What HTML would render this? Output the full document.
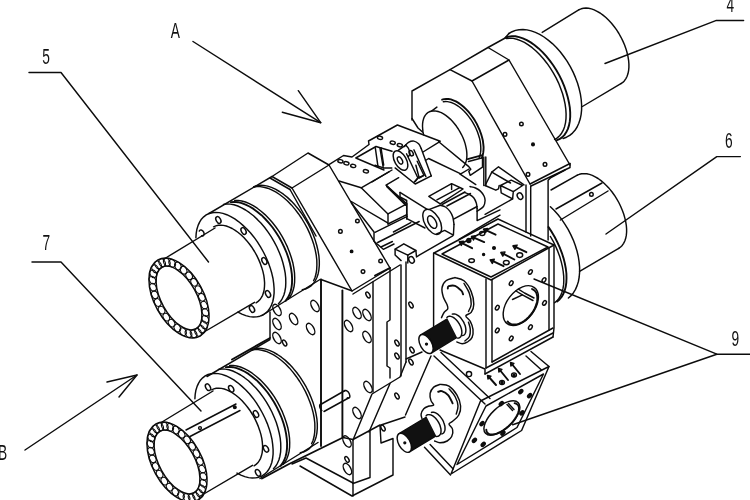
<!DOCTYPE html>
<html><head><meta charset="utf-8"><title>Figure</title>
<style>
html,body{margin:0;padding:0;background:#fff;}
body{width:750px;height:500px;overflow:hidden;position:relative;}
svg{position:absolute;left:0;top:0;display:block;filter:blur(0.35px);}
path,ellipse,circle,line{fill:none;stroke:#0c0c0c;stroke-width:1.45;stroke-linecap:round;stroke-linejoin:round;}
.w{fill:#fff;}
.k{fill:#111;}
.b{stroke-width:1.9;}
.h{stroke-width:1.05;}
.t{font-family:"Liberation Sans","DejaVu Sans",sans-serif;font-size:21.5px;fill:#111;stroke:none;}
</style></head><body>
<svg width="750" height="500" viewBox="0 0 750 500">
<path d="M29.0,72.5 L61.0,72.5 L208.5,262.0"/>
<path d="M32.0,262.0 L61.0,262.0 L201.0,411.0"/>
<path d="M743.6,20.4 L716.4,20.4 L605.0,63.5"/>
<path d="M740.4,156.6 L716.8,156.6 L606.0,234.0"/>
<path d="M750.0,354.2 L716.8,354.2 L534.0,279.0"/>
<path d="M716.8,354.2 L512.7,424.7"/>
<path d="M193.0,41.5 L320.7,122.7"/>
<path d="M298.3,90.7 L320.7,122.7 L282.3,112.3"/>
<path d="M25.0,450.0 L137.0,375.0"/>
<path d="M107.0,382.0 L137.0,375.0 L119.0,397.0"/>
<ellipse cx="179.0" cy="298.0" rx="43.5" ry="24.5" transform="rotate(61.0 179.0 298.0)"/>
<ellipse cx="179.0" cy="298.0" rx="35.0" ry="17.6" transform="rotate(61.0 179.0 298.0)"/>
<ellipse class="h" cx="198.1" cy="332.4" rx="4.0" ry="3.0" transform="rotate(61.0 198.1 332.4)"/>
<ellipse class="h" cx="193.6" cy="333.8" rx="4.0" ry="3.0" transform="rotate(61.0 193.6 333.8)"/>
<ellipse class="h" cx="188.5" cy="333.5" rx="4.0" ry="3.0" transform="rotate(61.0 188.5 333.5)"/>
<ellipse class="h" cx="183.0" cy="331.6" rx="4.0" ry="3.0" transform="rotate(61.0 183.0 331.6)"/>
<ellipse class="h" cx="177.3" cy="328.0" rx="4.0" ry="3.0" transform="rotate(61.0 177.3 328.0)"/>
<ellipse class="h" cx="171.6" cy="323.1" rx="4.0" ry="3.0" transform="rotate(61.0 171.6 323.1)"/>
<ellipse class="h" cx="166.3" cy="317.1" rx="4.0" ry="3.0" transform="rotate(61.0 166.3 317.1)"/>
<ellipse class="h" cx="161.6" cy="310.1" rx="4.0" ry="3.0" transform="rotate(61.0 161.6 310.1)"/>
<ellipse class="h" cx="157.7" cy="302.5" rx="4.0" ry="3.0" transform="rotate(61.0 157.7 302.5)"/>
<ellipse class="h" cx="154.8" cy="294.8" rx="4.0" ry="3.0" transform="rotate(61.0 154.8 294.8)"/>
<ellipse class="h" cx="153.0" cy="287.2" rx="4.0" ry="3.0" transform="rotate(61.0 153.0 287.2)"/>
<ellipse class="h" cx="152.5" cy="280.1" rx="4.0" ry="3.0" transform="rotate(61.0 152.5 280.1)"/>
<ellipse class="h" cx="153.2" cy="273.8" rx="4.0" ry="3.0" transform="rotate(61.0 153.2 273.8)"/>
<ellipse class="h" cx="155.1" cy="268.7" rx="4.0" ry="3.0" transform="rotate(61.0 155.1 268.7)"/>
<ellipse class="h" cx="158.1" cy="264.9" rx="4.0" ry="3.0" transform="rotate(61.0 158.1 264.9)"/>
<ellipse class="h" cx="162.1" cy="262.7" rx="4.0" ry="3.0" transform="rotate(61.0 162.1 262.7)"/>
<ellipse class="h" cx="166.8" cy="262.2" rx="4.0" ry="3.0" transform="rotate(61.0 166.8 262.2)"/>
<ellipse class="h" cx="172.2" cy="263.3" rx="4.0" ry="3.0" transform="rotate(61.0 172.2 263.3)"/>
<ellipse class="h" cx="177.9" cy="266.0" rx="4.0" ry="3.0" transform="rotate(61.0 177.9 266.0)"/>
<ellipse class="h" cx="183.6" cy="270.2" rx="4.0" ry="3.0" transform="rotate(61.0 183.6 270.2)"/>
<ellipse class="h" cx="189.1" cy="275.8" rx="4.0" ry="3.0" transform="rotate(61.0 189.1 275.8)"/>
<ellipse class="h" cx="194.1" cy="282.3" rx="4.0" ry="3.0" transform="rotate(61.0 194.1 282.3)"/>
<ellipse class="h" cx="198.5" cy="289.6" rx="4.0" ry="3.0" transform="rotate(61.0 198.5 289.6)"/>
<ellipse class="h" cx="201.9" cy="297.3" rx="4.0" ry="3.0" transform="rotate(61.0 201.9 297.3)"/>
<ellipse class="h" cx="204.2" cy="305.1" rx="4.0" ry="3.0" transform="rotate(61.0 204.2 305.1)"/>
<ellipse class="h" cx="205.4" cy="312.5" rx="4.0" ry="3.0" transform="rotate(61.0 205.4 312.5)"/>
<ellipse class="h" cx="205.3" cy="319.2" rx="4.0" ry="3.0" transform="rotate(61.0 205.3 319.2)"/>
<ellipse class="h" cx="204.0" cy="324.9" rx="4.0" ry="3.0" transform="rotate(61.0 204.0 324.9)"/>
<ellipse class="h" cx="201.6" cy="329.4" rx="4.0" ry="3.0" transform="rotate(61.0 201.6 329.4)"/>
<ellipse cx="177.0" cy="462.0" rx="43.5" ry="24.5" transform="rotate(61.0 177.0 462.0)"/>
<ellipse cx="177.0" cy="462.0" rx="35.0" ry="17.6" transform="rotate(61.0 177.0 462.0)"/>
<ellipse class="h" cx="196.1" cy="496.4" rx="4.0" ry="3.0" transform="rotate(61.0 196.1 496.4)"/>
<ellipse class="h" cx="191.6" cy="497.8" rx="4.0" ry="3.0" transform="rotate(61.0 191.6 497.8)"/>
<ellipse class="h" cx="186.5" cy="497.5" rx="4.0" ry="3.0" transform="rotate(61.0 186.5 497.5)"/>
<ellipse class="h" cx="181.0" cy="495.6" rx="4.0" ry="3.0" transform="rotate(61.0 181.0 495.6)"/>
<ellipse class="h" cx="175.3" cy="492.0" rx="4.0" ry="3.0" transform="rotate(61.0 175.3 492.0)"/>
<ellipse class="h" cx="169.6" cy="487.1" rx="4.0" ry="3.0" transform="rotate(61.0 169.6 487.1)"/>
<ellipse class="h" cx="164.3" cy="481.1" rx="4.0" ry="3.0" transform="rotate(61.0 164.3 481.1)"/>
<ellipse class="h" cx="159.6" cy="474.1" rx="4.0" ry="3.0" transform="rotate(61.0 159.6 474.1)"/>
<ellipse class="h" cx="155.7" cy="466.5" rx="4.0" ry="3.0" transform="rotate(61.0 155.7 466.5)"/>
<ellipse class="h" cx="152.8" cy="458.8" rx="4.0" ry="3.0" transform="rotate(61.0 152.8 458.8)"/>
<ellipse class="h" cx="151.0" cy="451.2" rx="4.0" ry="3.0" transform="rotate(61.0 151.0 451.2)"/>
<ellipse class="h" cx="150.5" cy="444.1" rx="4.0" ry="3.0" transform="rotate(61.0 150.5 444.1)"/>
<ellipse class="h" cx="151.2" cy="437.8" rx="4.0" ry="3.0" transform="rotate(61.0 151.2 437.8)"/>
<ellipse class="h" cx="153.1" cy="432.7" rx="4.0" ry="3.0" transform="rotate(61.0 153.1 432.7)"/>
<ellipse class="h" cx="156.1" cy="428.9" rx="4.0" ry="3.0" transform="rotate(61.0 156.1 428.9)"/>
<ellipse class="h" cx="160.1" cy="426.7" rx="4.0" ry="3.0" transform="rotate(61.0 160.1 426.7)"/>
<ellipse class="h" cx="164.8" cy="426.2" rx="4.0" ry="3.0" transform="rotate(61.0 164.8 426.2)"/>
<ellipse class="h" cx="170.2" cy="427.3" rx="4.0" ry="3.0" transform="rotate(61.0 170.2 427.3)"/>
<ellipse class="h" cx="175.9" cy="430.0" rx="4.0" ry="3.0" transform="rotate(61.0 175.9 430.0)"/>
<ellipse class="h" cx="181.6" cy="434.2" rx="4.0" ry="3.0" transform="rotate(61.0 181.6 434.2)"/>
<ellipse class="h" cx="187.1" cy="439.8" rx="4.0" ry="3.0" transform="rotate(61.0 187.1 439.8)"/>
<ellipse class="h" cx="192.1" cy="446.3" rx="4.0" ry="3.0" transform="rotate(61.0 192.1 446.3)"/>
<ellipse class="h" cx="196.5" cy="453.6" rx="4.0" ry="3.0" transform="rotate(61.0 196.5 453.6)"/>
<ellipse class="h" cx="199.9" cy="461.3" rx="4.0" ry="3.0" transform="rotate(61.0 199.9 461.3)"/>
<ellipse class="h" cx="202.2" cy="469.1" rx="4.0" ry="3.0" transform="rotate(61.0 202.2 469.1)"/>
<ellipse class="h" cx="203.4" cy="476.5" rx="4.0" ry="3.0" transform="rotate(61.0 203.4 476.5)"/>
<ellipse class="h" cx="203.3" cy="483.2" rx="4.0" ry="3.0" transform="rotate(61.0 203.3 483.2)"/>
<ellipse class="h" cx="202.0" cy="488.9" rx="4.0" ry="3.0" transform="rotate(61.0 202.0 488.9)"/>
<ellipse class="h" cx="199.6" cy="493.4" rx="4.0" ry="3.0" transform="rotate(61.0 199.6 493.4)"/>
<path d="M164.0,259.0 L215.0,228.0"/>
<path d="M201.5,333.5 L254.5,302.3"/>
<path d="M213.6,226.8 L215.8,225.9 L218.2,225.3 L220.7,225.1 L223.4,225.4 L226.3,226.0 L229.2,227.1 L232.2,228.5 L235.2,230.3 L238.2,232.5 L241.2,235.0 L244.1,237.8 L246.9,240.9 L249.6,244.3 L252.2,247.8 L254.5,251.5 L256.7,255.4 L258.6,259.4 L260.3,263.4 L261.7,267.4 L262.9,271.4 L263.8,275.4 L264.3,279.2 L264.6,282.9 L264.5,286.3 L264.2,289.6 L263.5,292.6 L262.6,295.3 L261.3,297.7 L259.8,299.8 L258.1,301.4 L256.1,302.8"/>
<path d="M195.9,237.7 L196.2,233.3 L196.9,229.2 L198.1,225.4 L199.6,222.1 L201.4,219.2 L203.7,216.8 L206.2,214.9 L209.1,213.5 L212.3,212.7 L215.6,212.4 L219.2,212.6 L222.9,213.4 L226.8,214.7 L230.8,216.6 L234.8,218.9 L238.8,221.8 L242.7,225.1 L246.6,228.8 L250.4,232.8 L254.0,237.2 L257.4,241.9 L260.5,246.9 L263.4,252.0 L266.0,257.2 L268.3,262.6 L270.2,267.9 L271.8,273.3 L273.0,278.5 L273.7,283.6 L274.1,288.5 L274.1,293.1 L273.6,297.5 L272.8,301.5 L271.5,305.1 L269.9,308.3 L267.9,311.0 L265.5,313.2 L262.9,315.0 L259.9,316.2 L256.7,316.9 L253.3,317.0 L249.6,316.6 L245.8,315.6 L241.9,314.1 L238.0,312.1"/>
<path d="M223.5,204.4 L226.8,204.0 L230.3,204.1 L234.0,204.8 L237.8,206.0 L241.7,207.8 L245.6,210.0 L249.5,212.7 L253.5,215.8 L257.3,219.4 L261.1,223.3 L264.7,227.5 L268.1,232.1 L271.3,236.9 L274.2,241.9 L276.9,247.0 L279.2,252.3 L281.3,257.5 L282.9,262.8 L284.2,268.0 L285.2,273.1 L285.7,278.0 L285.8,282.7 L285.6,287.1 L284.9,291.2 L283.9,295.0 L282.4,298.3 L280.6,301.3 L278.5,303.7"/>
<path class="b" d="M230.9,202.1 L234.3,201.9 L237.9,202.2 L241.7,203.1 L245.6,204.6 L249.5,206.5 L253.5,208.9 L257.5,211.9 L261.5,215.2 L265.3,219.0 L269.0,223.1 L272.6,227.5 L275.9,232.3 L279.1,237.2 L281.9,242.4 L284.4,247.6 L286.7,253.0 L288.5,258.3 L290.0,263.6 L291.1,268.8 L291.8,273.8 L292.1,278.7 L292.0,283.3 L291.5,287.6 L290.6,291.5 L289.3,295.0 L287.6,298.2 L285.6,300.8"/>
<path d="M234.7,200.4 L238.1,200.4 L241.7,201.0 L245.5,202.0 L249.3,203.6 L253.2,205.6 L257.2,208.2 L261.1,211.2 L265.0,214.6 L268.8,218.4 L272.4,222.5 L275.9,227.0 L279.2,231.7 L282.2,236.6 L284.9,241.7 L287.4,246.9 L289.5,252.2 L291.3,257.5 L292.8,262.7 L293.8,267.8 L294.5,272.8 L294.7,277.5 L294.6,282.1 L294.1,286.3 L293.2,290.1 L291.9,293.6 L290.2,296.7 L288.2,299.3"/>
<path d="M253.8,186.6 L256.9,185.7 L260.3,185.3 L263.8,185.4 L267.6,186.1 L271.4,187.4 L275.4,189.2 L279.4,191.5 L283.4,194.2 L287.4,197.4 L291.3,201.1 L295.0,205.1 L298.7,209.5 L302.1,214.2 L305.3,219.1 L308.3,224.2 L310.9,229.4 L313.2,234.8 L315.2,240.1 L316.8,245.5 L318.0,250.7 L318.9,255.8 L319.3,260.8 L319.3,265.4 L318.9,269.8 L318.1,273.9 L316.9,277.5 L315.3,280.8 L313.3,283.6 L311.0,285.9 L308.4,287.7 L305.5,289.0 L302.3,289.7"/>
<path d="M253.5,187.2 L256.8,186.6 L260.2,186.6 L263.9,187.2 L267.7,188.2 L271.6,189.8 L275.6,191.9 L279.6,194.5 L283.5,197.5 L287.5,201.0 L291.3,204.9 L294.9,209.1 L298.4,213.7 L301.7,218.5 L304.7,223.5 L307.5,228.6 L309.9,233.9 L312.0,239.3 L313.8,244.6 L315.2,249.9 L316.2,255.0 L316.8,260.0 L316.9,264.8 L316.7,269.3 L316.1,273.5 L315.1,277.3 L313.6,280.7"/>
<path d="M209.0,213.5 L272.0,176.5"/>
<path d="M262.0,315.5 L320.0,279.5"/>
<path d="M199.3,231.1 L199.4,230.9 L199.5,230.7 L199.7,230.5 L199.8,230.3 L200.0,230.2 L200.2,230.1 L200.4,230.1 L200.7,230.0 L200.9,230.0 L201.2,230.0 L201.4,230.1 L201.7,230.2 L201.9,230.3 L202.2,230.5 L202.4,230.6 L202.7,230.8 L202.9,231.1 L203.1,231.3 L203.3,231.6 L203.5,231.9 L203.6,232.2 L203.8,232.5 L203.9,232.8 L204.0,233.1 L204.0,233.4 L204.1,233.7 L204.1,234.0 L204.1,234.3 L204.0,234.6 L203.9,234.8 L203.8,235.0 L203.7,235.3 L203.6,235.5 L203.4,235.6 L203.2,235.8 L203.0,235.9 L202.8,235.9 L202.6,236.0 L202.3,236.0 L202.1,236.0 L201.8,235.9 L201.6,235.8"/>
<ellipse cx="218.4" cy="220.0" rx="3.6" ry="2.2" transform="rotate(60.5 218.4 220.0)"/>
<ellipse cx="243.6" cy="231.0" rx="3.6" ry="2.2" transform="rotate(60.5 243.6 231.0)"/>
<ellipse cx="264.4" cy="261.0" rx="3.6" ry="2.2" transform="rotate(60.5 264.4 261.0)"/>
<ellipse cx="268.0" cy="294.0" rx="3.6" ry="2.2" transform="rotate(60.5 268.0 294.0)"/>
<ellipse cx="252.0" cy="309.0" rx="3.6" ry="2.2" transform="rotate(60.5 252.0 309.0)"/>
<path d="M162.0,422.0 L213.0,391.0"/>
<path d="M199.5,496.5 L252.5,465.3"/>
<path d="M211.6,389.8 L213.8,388.9 L216.2,388.3 L218.7,388.1 L221.4,388.4 L224.3,389.0 L227.2,390.1 L230.2,391.5 L233.2,393.3 L236.2,395.5 L239.2,398.0 L242.1,400.8 L244.9,403.9 L247.6,407.3 L250.2,410.8 L252.5,414.5 L254.7,418.4 L256.6,422.4 L258.3,426.4 L259.7,430.4 L260.9,434.4 L261.8,438.4 L262.3,442.2 L262.6,445.9 L262.5,449.3 L262.2,452.6 L261.5,455.6 L260.6,458.3 L259.3,460.7 L257.8,462.8 L256.1,464.4 L254.1,465.8"/>
<path d="M194.9,398.7 L195.2,394.3 L195.9,390.2 L197.1,386.4 L198.6,383.1 L200.4,380.2 L202.7,377.8 L205.2,375.9 L208.1,374.5 L211.3,373.7 L214.6,373.4 L218.2,373.6 L221.9,374.4 L225.8,375.7 L229.8,377.6 L233.8,379.9 L237.8,382.8 L241.7,386.1 L245.6,389.8 L249.4,393.8 L253.0,398.2 L256.4,402.9 L259.5,407.9 L262.4,413.0 L265.0,418.2 L267.3,423.6 L269.2,428.9 L270.8,434.3 L272.0,439.5 L272.7,444.6 L273.1,449.5 L273.1,454.1 L272.6,458.5 L271.8,462.5 L270.5,466.1 L268.9,469.3 L266.9,472.0 L264.5,474.2 L261.9,476.0 L258.9,477.2 L255.7,477.9 L252.3,478.0 L248.6,477.6 L244.8,476.6 L240.9,475.1 L237.0,473.1"/>
<path d="M218.5,369.4 L221.8,369.0 L225.3,369.1 L229.0,369.8 L232.8,371.0 L236.7,372.8 L240.6,375.0 L244.5,377.7 L248.5,380.8 L252.3,384.4 L256.1,388.3 L259.7,392.5 L263.1,397.1 L266.3,401.9 L269.2,406.9 L271.9,412.0 L274.2,417.3 L276.3,422.5 L277.9,427.8 L279.2,433.0 L280.2,438.1 L280.7,443.0 L280.8,447.7 L280.6,452.1 L279.9,456.2 L278.9,460.0 L277.4,463.3 L275.6,466.3 L273.5,468.7"/>
<path class="b" d="M225.9,367.1 L229.3,366.9 L232.9,367.2 L236.7,368.1 L240.6,369.6 L244.5,371.5 L248.5,373.9 L252.5,376.9 L256.5,380.2 L260.3,384.0 L264.0,388.1 L267.6,392.5 L270.9,397.3 L274.1,402.2 L276.9,407.4 L279.4,412.6 L281.7,418.0 L283.5,423.3 L285.0,428.6 L286.1,433.8 L286.8,438.8 L287.1,443.7 L287.0,448.3 L286.5,452.6 L285.6,456.5 L284.3,460.0 L282.6,463.2 L280.6,465.8"/>
<path d="M229.7,365.4 L233.1,365.4 L236.7,366.0 L240.5,367.0 L244.3,368.6 L248.2,370.6 L252.2,373.2 L256.1,376.2 L260.0,379.6 L263.8,383.4 L267.4,387.5 L270.9,392.0 L274.2,396.7 L277.2,401.6 L279.9,406.7 L282.4,411.9 L284.5,417.2 L286.3,422.5 L287.8,427.7 L288.8,432.8 L289.5,437.8 L289.7,442.5 L289.6,447.1 L289.1,451.3 L288.2,455.1 L286.9,458.6 L285.2,461.7 L283.2,464.3"/>
<path d="M251.8,349.6 L254.9,348.7 L258.3,348.3 L261.8,348.4 L265.6,349.1 L269.4,350.4 L273.4,352.2 L277.4,354.5 L281.4,357.2 L285.4,360.4 L289.3,364.1 L293.0,368.1 L296.7,372.5 L300.1,377.2 L303.3,382.1 L306.3,387.2 L308.9,392.4 L311.2,397.8 L313.2,403.1 L314.8,408.5 L316.0,413.7 L316.9,418.8 L317.3,423.8 L317.3,428.4 L316.9,432.8 L316.1,436.9 L314.9,440.5 L313.3,443.8 L311.3,446.6 L309.0,448.9 L306.4,450.7 L303.5,452.0 L300.3,452.7"/>
<path d="M251.5,350.2 L254.8,349.6 L258.2,349.6 L261.9,350.2 L265.7,351.2 L269.6,352.8 L273.6,354.9 L277.6,357.5 L281.5,360.5 L285.5,364.0 L289.3,367.9 L292.9,372.1 L296.4,376.7 L299.7,381.5 L302.7,386.5 L305.5,391.6 L307.9,396.9 L310.0,402.3 L311.8,407.6 L313.2,412.9 L314.2,418.0 L314.8,423.0 L314.9,427.8 L314.7,432.3 L314.1,436.5 L313.1,440.3 L311.6,443.7"/>
<path d="M207.0,376.5 L270.0,339.5"/>
<path d="M260.0,478.5 L318.0,442.5"/>
<path d="M186.0,430.0 L236.0,404.0"/>
<path d="M190.0,436.5 L240.0,410.5"/>
<circle cx="200.0" cy="428.0" r="1.4"/>
<circle class="k" cx="234.8" cy="407.2" r="1.3"/>
<ellipse cx="208.0" cy="387.2" rx="3.6" ry="2.2" transform="rotate(60.5 208.0 387.2)"/>
<ellipse cx="231.2" cy="388.8" rx="3.6" ry="2.2" transform="rotate(60.5 231.2 388.8)"/>
<ellipse cx="256.0" cy="414.0" rx="3.6" ry="2.2" transform="rotate(60.5 256.0 414.0)"/>
<ellipse cx="266.0" cy="448.8" rx="3.6" ry="2.2" transform="rotate(60.5 266.0 448.8)"/>
<ellipse cx="258.0" cy="472.8" rx="3.6" ry="2.2" transform="rotate(60.5 258.0 472.8)"/>
<path d="M272.0,176.5 L308.0,153.0 L329.0,165.0 L292.0,188.0 L272.0,176.5"/>
<path d="M270.0,178.0 L290.0,189.5"/>
<path d="M292.0,188.0 L352.0,291.0"/>
<path d="M290.0,189.5 L316.0,236.0"/>
<path d="M329.0,165.0 L390.0,268.0"/>
<path d="M352.0,291.0 L390.0,268.0"/>
<path d="M353.0,294.0 L400.0,265.0"/>
<circle cx="357.4" cy="221.0" r="1.8"/>
<circle cx="340.4" cy="231.4" r="1.8"/>
<circle cx="363.0" cy="271.6" r="1.8"/>
<circle cx="380.6" cy="261.0" r="1.8"/>
<circle class="k" cx="351.6" cy="251.4" r="1.2"/>
<path d="M579.1,9.7 L581.2,8.8 L583.5,8.2 L586.0,8.0 L588.6,8.3 L591.4,8.9 L594.2,9.9 L597.1,11.3 L600.1,13.0 L603.0,15.1 L605.9,17.5 L608.7,20.3 L611.5,23.3 L614.1,26.5 L616.6,29.9 L618.9,33.5 L621.0,37.3 L622.9,41.1 L624.6,45.0 L626.0,48.9 L627.1,52.8 L628.0,56.7 L628.6,60.4 L628.9,64.0 L628.9,67.4 L628.6,70.6 L628.0,73.6 L627.1,76.2 L625.9,78.6 L624.5,80.7 L622.8,82.4 L620.9,83.7"/>
<path d="M542.2,32.4 L579.1,9.7"/>
<path d="M620.9,83.7 L582.4,106.5"/>
<path d="M508.9,33.5 L512.1,31.7 L515.5,30.4 L519.1,29.7 L523.0,29.5 L527.0,29.9 L531.2,30.9 L535.4,32.4 L539.7,34.4 L544.0,37.0 L548.2,40.1 L552.4,43.6 L556.4,47.5 L560.2,51.8 L563.8,56.5 L567.2,61.4 L570.3,66.6 L573.0,71.9 L575.4,77.4 L577.5,83.0 L579.1,88.5 L580.4,94.1 L581.2,99.5 L581.6,104.8 L581.6,109.8 L581.1,114.6 L580.2,119.1 L578.8,123.3 L577.1,127.0 L575.0,130.3 L572.5,133.1 L569.7,135.4 L566.5,137.2 L563.1,138.5"/>
<path d="M505.5,37.5 L508.9,33.6"/>
<path class="b" d="M505.6,37.6 L508.7,36.6 L511.9,36.2 L515.4,36.3 L519.1,37.1 L522.9,38.3 L526.8,40.1 L530.7,42.4 L534.7,45.2 L538.6,48.4 L542.5,52.1 L546.2,56.2 L549.8,60.6 L553.2,65.3 L556.4,70.3 L559.3,75.4 L561.9,80.7 L564.2,86.1 L566.1,91.5 L567.7,96.9 L568.9,102.2 L569.8,107.3 L570.2,112.3 L570.2,117.0 L569.8,121.4 L569.0,125.4 L567.8,129.1 L566.2,132.3 L564.3,135.1 L562.0,137.4 L559.4,139.2 L556.5,140.4"/>
<path d="M506.4,38.5 L509.7,38.2 L513.2,38.4 L516.8,39.2 L520.5,40.6 L524.4,42.4 L528.3,44.8 L532.2,47.7 L536.0,51.0 L539.8,54.7 L543.4,58.7 L546.9,63.2 L550.2,67.9 L553.3,72.8 L556.1,77.9 L558.6,83.1 L560.7,88.4 L562.6,93.8 L564.0,99.0 L565.1,104.2 L565.8,109.2 L566.1,114.0 L566.0,118.6 L565.5,122.8 L564.6,126.7 L563.3,130.2 L561.6,133.2 L559.6,135.8 L557.3,137.9 L554.6,139.5"/>
<path d="M577.3,175.2 L579.4,174.3 L581.7,173.7 L584.2,173.6 L586.8,173.8 L589.5,174.4 L592.3,175.4 L595.2,176.8 L598.1,178.5 L601.0,180.6 L603.8,183.0 L606.6,185.7 L609.3,188.6 L611.9,191.8 L614.4,195.2 L616.7,198.8 L618.8,202.5 L620.6,206.3 L622.3,210.2 L623.7,214.0 L624.8,217.9 L625.7,221.7 L626.3,225.3 L626.6,228.9 L626.6,232.3 L626.3,235.4 L625.7,238.3 L624.8,241.0 L623.6,243.3 L622.2,245.4 L620.6,247.0 L618.7,248.4"/>
<path d="M551.0,190.0 L577.3,175.2"/>
<path d="M618.7,248.4 L579.6,271.3"/>
<path d="M550.4,206.7 L554.3,210.6 L558.1,214.8 L561.7,219.4 L565.0,224.3 L568.1,229.4 L570.8,234.6 L573.3,240.1 L575.3,245.5 L577.0,251.0 L578.3,256.5 L579.1,261.9 L579.6,267.1 L579.6,272.2 L579.2,277.0 L578.4,281.5 L577.1,285.6 L575.5,289.4 L573.5,292.7 L571.1,295.6 L568.4,298.0"/>
<path class="b" d="M548.5,227.1 L551.7,231.9 L554.7,237.0 L557.3,242.1 L559.7,247.4 L561.8,252.8 L563.5,258.1 L564.8,263.3 L565.8,268.5 L566.4,273.5 L566.5,278.2 L566.3,282.7 L565.7,286.8 L564.7,290.6 L563.3,294.0 L561.6,297.0 L559.5,299.5 L557.1,301.5"/>
<path d="M550.4,236.5 L553.2,241.3 L555.6,246.3 L557.8,251.4 L559.7,256.5 L561.2,261.6 L562.4,266.6 L563.2,271.5 L563.7,276.2 L563.8,280.7 L563.6,284.9 L562.9,288.9 L561.9,292.5 L560.6,295.7 L558.9,298.5 L556.9,300.9 L554.6,302.8"/>
<path d="M602.0,183.0 L556.0,209.0"/>
<path d="M608.0,191.0 L560.4,220.0"/>
<circle cx="591.4" cy="194.4" r="1.8"/>
<path d="M412.0,120.0 L412.0,91.0 L450.0,69.6 L488.0,47.5 L507.0,37.0"/>
<path d="M450.0,69.6 L472.0,81.0 L509.0,60.0 L488.0,47.5"/>
<path d="M472.0,81.0 L530.0,184.0"/>
<path d="M509.0,60.0 L570.0,165.0"/>
<path d="M530.0,184.0 L570.0,163.5"/>
<path d="M531.0,186.0 L570.0,167.5 L570.0,163.5"/>
<circle cx="521.4" cy="124.0" r="1.8"/>
<circle cx="505.0" cy="134.4" r="1.8"/>
<circle cx="545.0" cy="164.4" r="1.8"/>
<circle cx="528.0" cy="174.4" r="1.8"/>
<circle class="k" cx="533.0" cy="144.4" r="1.3"/>
<path d="M412.0,118.5 L418.0,128.0 L422.5,132.0"/>
<path d="M423.6,134.8 L423.0,131.9 L422.7,129.0 L422.5,126.3 L422.6,123.7 L422.9,121.3 L423.5,119.1 L424.2,117.1 L425.2,115.4 L426.4,113.9 L427.7,112.7 L429.3,111.8 L431.0,111.2 L432.8,110.9 L434.8,110.9 L436.9,111.2 L439.1,111.8 L441.3,112.7 L443.5,113.9 L445.8,115.4 L448.0,117.1 L450.3,119.1 L452.4,121.3 L454.5,123.7 L456.5,126.3 L458.3,129.0 L460.0,131.9 L461.6,134.8 L463.0,137.8 L464.2,140.8 L465.2,143.9 L465.9,146.9 L466.5,149.8 L466.8,152.6 L466.9,155.3 L466.8,157.8 L466.4,160.2 L465.8,162.4 L465.0,164.3 L464.0,166.0 L462.7,167.4"/>
<path d="M431.5,111.1 L436.9,107.1"/>
<path class="b" d="M442.1,99.7 L444.1,99.1 L446.2,98.9 L448.5,99.0 L450.9,99.4 L453.3,100.3 L455.9,101.4 L458.4,102.9 L461.0,104.7 L463.5,106.7 L466.0,109.1 L468.4,111.7 L470.7,114.5 L472.9,117.5 L474.9,120.6 L476.8,123.9 L478.4,127.3 L479.9,130.7 L481.1,134.1 L482.1,137.5 L482.9,140.8 L483.3,144.1 L483.6,147.2 L483.5,150.2 L483.2,152.9 L482.6,155.5 L481.8,157.7"/>
<path d="M443.3,101.7 L445.4,101.5 L447.5,101.6 L449.8,102.1 L452.1,102.8 L454.5,103.9 L457.0,105.3 L459.4,107.0 L461.8,109.0 L464.2,111.2 L466.5,113.7 L468.6,116.4 L470.7,119.2 L472.6,122.2 L474.4,125.3 L476.0,128.5 L477.4,131.8 L478.5,135.0 L479.5,138.2 L480.2,141.4 L480.6,144.5 L480.8,147.5 L480.8,150.3 L480.5,152.9 L480.0,155.3 L479.2,157.5"/>
<path d="M329.0,164.6 L343.5,155.5 L352.0,157.0 L369.0,144.5 L368.5,141.0 L397.4,125.0 L440.2,141.3 L423.0,152.0"/>
<path d="M392.0,151.2 L376.0,146.5 L355.8,158.0 L384.0,170.0"/>
<path d="M375.3,147.8 L378.0,166.6"/>
<path d="M380.0,148.5 L383.3,168.0"/>
<ellipse cx="340.4" cy="161.2" rx="2.6" ry="1.6" transform="rotate(12 340.4 161.2)"/>
<ellipse cx="346.4" cy="163.3" rx="2.6" ry="1.6" transform="rotate(12 346.4 163.3)"/>
<ellipse cx="353.2" cy="165.9" rx="2.6" ry="1.6" transform="rotate(12 353.2 165.9)"/>
<ellipse cx="365.9" cy="171.3" rx="2.6" ry="1.6" transform="rotate(12 365.9 171.3)"/>
<ellipse cx="380.0" cy="137.8" rx="2.6" ry="1.6" transform="rotate(12 380.0 137.8)"/>
<ellipse cx="392.7" cy="142.7" rx="2.6" ry="1.6" transform="rotate(12 392.7 142.7)"/>
<ellipse cx="399.8" cy="145.2" rx="2.6" ry="1.6" transform="rotate(12 399.8 145.2)"/>
<path d="M372.0,182.0 L392.0,170.0"/>
<ellipse cx="400.5" cy="160.5" rx="10.8" ry="5.8" transform="rotate(60.5 400.5 160.5)"/>
<ellipse cx="400.0" cy="160.5" rx="3.9" ry="2.1" transform="rotate(60.5 400.0 160.5)"/>
<path d="M398.5,150.2 L405.8,145.1"/>
<path d="M405.8,145.1 C406.2,145.7 407.8,147.1 408.5,148.5 C409.2,149.9 409.9,152.5 409.9,153.8 C409.9,155.1 408.7,156.1 408.5,156.5"/>
<path d="M395.1,167.9 L415.2,184.0 L431.3,175.9"/>
<path d="M406.5,153.8 L417.9,178.0 L415.2,181.5"/>
<path d="M413.8,182.5 L417.9,178.0 L423.9,175.3"/>
<path d="M404.5,146.4 C405.2,145.7 406.9,143.3 408.5,142.4 C410.1,141.5 412.2,140.9 413.9,141.1 C415.6,141.3 417.4,142.6 418.6,143.8 C419.8,145.0 420.8,147.7 421.2,148.5"/>
<path d="M421.2,148.5 L431.3,175.9"/>
<path d="M413.9,149.8 L425.9,176.6"/>
<path d="M415.9,165.2 L419.2,178.0 L423.9,175.3 L417.2,161.2"/>
<ellipse cx="411.2" cy="153.2" rx="2.9" ry="1.8" transform="rotate(60.5 411.2 153.2)"/>
<path d="M381.0,147.8 L383.7,165.2"/>
<path d="M375.0,165.2 L383.7,167.9 L391.8,167.9"/>
<path d="M339.0,181.0 L361.2,187.8 L389.3,171.7"/>
<path d="M361.2,187.8 L388.0,213.9 L406.8,203.9"/>
<path d="M388.0,213.9 L388.0,224.0"/>
<path d="M351.3,201.5 L387.3,222.7"/>
<path d="M351.3,202.7 L374.0,232.0 L374.0,241.3 L383.3,249.3 L394.0,244.0"/>
<path d="M398.7,177.7 L386.0,185.1 L406.8,203.9 L406.8,218.6 L425.0,228.0"/>
<path class="b" d="M387.0,186.5 L405.8,205.0"/>
<path d="M388.0,224.0 L406.8,214.6"/>
<path d="M393.4,232.0 L410.8,222.6"/>
<path d="M438.7,141.8 L468.8,166.6 L470.8,169.2 L468.8,171.2 L470.2,175.3 L482.5,167.2 L482.5,157.8"/>
<path class="b" d="M467.7,159.1 L482.5,155.1"/>
<path d="M468.5,161.5 L482.5,157.8"/>
<path d="M425.5,160.5 L428.6,158.5 L460.8,173.9 L469.0,169.0"/>
<path d="M459.7,173.9 L475.8,184.6"/>
<path d="M483.8,157.0 L483.8,185.5"/>
<path d="M485.8,157.0 L485.8,185.5"/>
<path d="M400.0,192.4 L426.8,209.2"/>
<path d="M428.8,196.4 L451.6,183.7 L463.0,189.0 L440.2,203.8 L428.8,196.4"/>
<path d="M436.9,199.8 L459.7,187.7"/>
<path d="M451.6,184.5 L451.6,189.5"/>
<path d="M442.0,204.5 L465.0,192.0"/>
<ellipse cx="432.2" cy="221.9" rx="13.8" ry="7.5" transform="rotate(60.5 432.2 221.9)"/>
<ellipse cx="432.2" cy="222.1" rx="6.9" ry="3.7" transform="rotate(60.5 432.2 222.1)"/>
<path d="M428.8,209.6 L440.2,205.2"/>
<path d="M440.2,205.2 C441.1,205.5 443.9,206.0 445.5,207.0 C447.1,208.0 448.6,209.5 449.8,211.2 C451.0,212.9 452.1,214.8 452.8,217.0 C453.5,219.2 453.8,223.2 454.0,224.4"/>
<path d="M454.0,224.4 L453.4,235.1 L444.7,230.4 L436.7,233.8"/>
<path d="M453.6,219.2 L477.1,206.5"/>
<path d="M446.9,206.0 L470.5,193.5"/>
<path d="M470.0,186.5 C470.9,186.8 473.8,187.2 475.5,188.0 C477.2,188.8 479.0,189.8 480.4,191.1 C481.8,192.4 483.2,194.4 484.0,196.0 C484.8,197.6 485.2,198.8 485.1,200.5 C485.0,202.2 484.8,204.7 483.5,206.5 C482.2,208.3 478.2,210.4 477.1,211.2"/>
<path d="M464.3,192.4 C465.2,192.8 467.9,193.6 469.5,194.5 C471.1,195.4 472.6,196.4 473.7,197.8 C474.8,199.2 475.7,201.2 476.3,203.0 C476.9,204.8 477.0,207.6 477.1,208.5"/>
<path d="M477.1,208.5 L477.1,220.6 L500.0,209.9"/>
<path d="M459.0,239.3 L500.0,215.2"/>
<path d="M400.0,192.4 L400.0,197.0 L406.7,200.5 L406.7,219.0"/>
<path d="M485.1,185.5 L491.8,172.1 L498.5,166.8 L524.0,184.9"/>
<path d="M491.8,172.1 L510.5,183.0"/>
<path d="M485.1,185.5 L495.8,190.2 L498.5,188.9 L499.2,185.5"/>
<path d="M500.5,185.5 L511.2,180.2 L522.6,185.5 L513.3,191.6 L500.5,185.5 L501.2,192.9 L512.6,198.9 L513.3,191.6"/>
<path d="M512.6,198.9 L485.1,214.3"/>
<ellipse cx="520.0" cy="196.2" rx="3.4" ry="2.6" transform="rotate(60.5 520.0 196.2)"/>
<path d="M526.0,185.0 L526.0,232.0"/>
<path d="M530.7,186.0 L530.7,236.0"/>
<path d="M565.0,170.0 L551.0,177.5 L548.1,180.2 L548.1,240.0"/>
<path d="M270.0,312.0 L270.0,338.0"/>
<path class="b" d="M270.0,338.0 L232.0,359.5"/>
<path class="b" d="M321.0,279.5 L321.0,446.0"/>
<path class="b" d="M342.4,290.5 L342.4,437.0"/>
<path d="M321.0,279.5 L351.0,290.5"/>
<path d="M373.0,282.0 L373.0,392.0"/>
<path d="M390.0,268.0 L390.0,320.0 L387.0,322.0 L387.0,366.0 L390.0,368.0 L390.0,378.0"/>
<path d="M401.0,265.0 L401.0,376.0"/>
<path d="M406.0,262.0 L406.0,362.0"/>
<path d="M406.0,359.0 L422.0,352.0"/>
<ellipse cx="277.0" cy="310.0" rx="6.2" ry="3.3" transform="rotate(60.5 277.0 310.0)"/>
<ellipse cx="277.0" cy="324.0" rx="6.2" ry="3.3" transform="rotate(60.5 277.0 324.0)"/>
<ellipse cx="277.0" cy="338.0" rx="6.2" ry="3.3" transform="rotate(60.5 277.0 338.0)"/>
<ellipse cx="293.6" cy="319.0" rx="6.2" ry="3.3" transform="rotate(60.5 293.6 319.0)"/>
<ellipse cx="315.0" cy="306.0" rx="6.2" ry="3.3" transform="rotate(60.5 315.0 306.0)"/>
<ellipse cx="310.6" cy="329.0" rx="6.2" ry="3.3" transform="rotate(60.5 310.6 329.0)"/>
<ellipse cx="357.0" cy="313.0" rx="6.2" ry="3.3" transform="rotate(60.5 357.0 313.0)"/>
<ellipse cx="367.0" cy="315.0" rx="6.2" ry="3.3" transform="rotate(60.5 367.0 315.0)"/>
<ellipse cx="348.6" cy="326.0" rx="6.2" ry="3.3" transform="rotate(60.5 348.6 326.0)"/>
<ellipse cx="367.0" cy="337.0" rx="6.2" ry="3.3" transform="rotate(60.5 367.0 337.0)"/>
<ellipse cx="368.0" cy="387.0" rx="6.2" ry="3.3" transform="rotate(60.5 368.0 387.0)"/>
<ellipse cx="357.0" cy="413.0" rx="6.2" ry="3.3" transform="rotate(60.5 357.0 413.0)"/>
<ellipse cx="347.0" cy="441.5" rx="6.2" ry="3.3" transform="rotate(60.5 347.0 441.5)"/>
<ellipse cx="347.4" cy="469.0" rx="6.2" ry="3.3" transform="rotate(60.5 347.4 469.0)"/>
<ellipse cx="284.6" cy="343.0" rx="3.2" ry="1.7" transform="rotate(60.5 284.6 343.0)"/>
<ellipse cx="368.0" cy="295.0" rx="3.2" ry="1.7" transform="rotate(60.5 368.0 295.0)"/>
<ellipse cx="397.0" cy="343.0" rx="3.2" ry="1.7" transform="rotate(60.5 397.0 343.0)"/>
<ellipse cx="397.0" cy="356.0" rx="3.2" ry="1.7" transform="rotate(60.5 397.0 356.0)"/>
<ellipse cx="411.0" cy="305.0" rx="3.2" ry="1.7" transform="rotate(60.5 411.0 305.0)"/>
<ellipse cx="412.0" cy="350.0" rx="3.2" ry="1.7" transform="rotate(60.5 412.0 350.0)"/>
<ellipse cx="411.0" cy="362.0" rx="3.2" ry="1.7" transform="rotate(60.5 411.0 362.0)"/>
<ellipse cx="347.0" cy="459.4" rx="3.2" ry="1.7" transform="rotate(60.5 347.0 459.4)"/>
<ellipse cx="397.0" cy="396.0" rx="3.2" ry="1.7" transform="rotate(60.5 397.0 396.0)"/>
<ellipse cx="383.0" cy="428.0" rx="3.2" ry="1.7" transform="rotate(60.5 383.0 428.0)"/>
<path d="M321.5,404.0 L345.0,390.5"/>
<path d="M324.0,411.5 L348.5,398.0"/>
<path d="M344.6,390.9 L344.8,390.7 L345.0,390.6 L345.2,390.5 L345.5,390.5 L345.7,390.5 L346.0,390.5 L346.3,390.6 L346.5,390.7 L346.8,390.9 L347.1,391.1 L347.4,391.3 L347.7,391.5 L348.0,391.8 L348.3,392.1 L348.5,392.5 L348.8,392.8 L349.0,393.2 L349.2,393.6 L349.4,394.0 L349.5,394.4 L349.6,394.8 L349.7,395.1 L349.8,395.5 L349.8,395.9 L349.9,396.2 L349.8,396.6 L349.8,396.9 L349.7,397.1 L349.6,397.4 L349.5,397.6 L349.3,397.8 L349.1,397.9 L348.9,398.0 L348.7,398.1 L348.4,398.1 L348.2,398.1 L347.9,398.0 L347.6,398.0 L347.3,397.8"/>
<path d="M321.8,410.6 L321.5,410.3 L321.3,410.0 L321.0,409.7 L320.8,409.3 L320.6,409.0 L320.4,408.6 L320.2,408.2 L320.0,407.8 L319.9,407.4 L319.8,407.0 L319.7,406.7 L319.7,406.3 L319.6,406.0 L319.7,405.6 L319.7,405.3 L319.8,405.0 L319.9,404.8 L320.0,404.6 L320.1,404.4 L320.3,404.2 L320.5,404.1 L320.7,404.0 L321.0,404.0 L321.2,404.0"/>
<path class="b" d="M262.0,478.5 L289.0,464.0 L343.0,437.5"/>
<path d="M292.0,464.0 L306.0,458.0 L353.0,483.0"/>
<path d="M300.0,466.0 L352.0,496.0 L393.0,475.0 L393.0,438.5 L381.0,443.0 L380.0,425.0 L353.0,439.5 L343.0,437.5"/>
<path d="M353.0,439.5 L353.0,496.0"/>
<path d="M370.0,430.5 L370.0,477.5 L353.0,483.5"/>
<path d="M353.0,440.0 L372.0,394.0 L400.0,377.0 L406.0,362.0"/>
<path d="M369.0,432.0 L390.0,383.5"/>
<path d="M381.0,425.0 L405.0,417.0"/>
<path d="M405.5,415.0 L431.0,356.0"/>
<path d="M395.1,249.2 L403.8,243.8 L415.9,250.5 L407.8,255.2Z"/>
<path d="M395.1,249.2 L395.1,255.0 L401.1,260.6"/>
<path d="M407.8,255.2 L407.8,263.0"/>
<path d="M415.9,250.5 L416.5,257.0 L419.2,255.2 L452.7,235.8"/>
<ellipse cx="411.5" cy="259.9" rx="3.4" ry="2.6" transform="rotate(60.5 411.5 259.9)"/>
<path d="M375.0,232.4 L407.2,216.3"/>
<path d="M377.7,242.5 L419.2,221.5"/>
<path d="M381.0,247.0 L392.4,241.5"/>
<path class="b" d="M375.0,275.5 L389.7,268.0"/>
<path d="M434.0,253.0 L498.0,219.0 L554.0,245.0 L491.0,280.0Z"/>
<path d="M442.0,254.0 L498.0,224.0 L548.0,247.0 L491.0,277.0Z"/>
<path d="M433.6,253.0 L433.6,336.0"/>
<path d="M486.0,279.0 L486.0,368.0"/>
<path d="M492.0,280.0 L492.0,362.0"/>
<path d="M549.0,248.0 L549.0,330.0"/>
<path d="M554.0,245.0 L554.0,328.0 L553.0,337.0"/>
<path d="M492.0,362.0 L553.0,328.0"/>
<path d="M486.0,368.0 L553.0,333.0"/>
<path d="M485.0,374.0 L553.0,337.0"/>
<path d="M440.0,350.0 L485.0,369.0 L485.0,374.0"/>
<ellipse cx="530.4" cy="272.0" rx="2.5" ry="1.6" transform="rotate(-58.0 530.4 272.0)"/>
<ellipse cx="511.2" cy="283.2" rx="2.5" ry="1.6" transform="rotate(-58.0 511.2 283.2)"/>
<ellipse cx="544.0" cy="280.0" rx="2.5" ry="1.6" transform="rotate(-58.0 544.0 280.0)"/>
<ellipse cx="497.3" cy="307.7" rx="2.5" ry="1.6" transform="rotate(-58.0 497.3 307.7)"/>
<ellipse cx="544.5" cy="302.9" rx="2.5" ry="1.6" transform="rotate(-58.0 544.5 302.9)"/>
<ellipse cx="497.3" cy="330.4" rx="2.5" ry="1.6" transform="rotate(-58.0 497.3 330.4)"/>
<ellipse cx="530.4" cy="327.2" rx="2.5" ry="1.6" transform="rotate(-58.0 530.4 327.2)"/>
<ellipse cx="511.2" cy="338.4" rx="2.5" ry="1.6" transform="rotate(-58.0 511.2 338.4)"/>
<ellipse cx="520.8" cy="305.6" rx="22.6" ry="14.0" transform="rotate(-53.0 520.8 305.6)"/>
<path class="b" d="M532.0,289.0 L533.2,289.6 L534.2,290.3 L535.1,291.2 L535.9,292.2 L536.5,293.4 L536.9,294.8 L537.2,296.3 L537.3,297.8 L537.3,299.5 L537.1,301.2 L536.7,303.0 L536.1,304.9 L535.5,306.7 L534.6,308.6 L533.6,310.4 L532.5,312.2 L531.3,313.9 L530.0,315.5 L528.6,317.1 L527.1,318.5 L525.6,319.9 L524.0,321.0 L522.4,322.0 L520.7,322.9 L519.1,323.6 L517.5,324.1 L516.0,324.4 L514.5,324.5 L513.1,324.5 L511.7,324.2 L510.5,323.8 L509.4,323.2 L508.4,322.4 L507.6,321.4"/>
<path d="M516.0,291.0 L522.4,294.8 L533.0,300.5"/>
<path d="M522.4,294.8 L512.5,299.5"/>
<path d="M518.4,289.2 L524.5,293.0 L534.0,298.0"/>
<path d="M455.0,277.6 C456.5,278.1 461.3,278.5 464.0,280.8 C466.7,283.1 469.6,287.7 471.2,291.6 C472.8,295.5 473.8,300.8 473.8,304.2 C473.8,307.6 472.5,310.4 471.2,312.3 C469.9,314.2 465.9,314.4 465.8,315.9 C465.7,317.4 469.1,319.1 470.3,321.3 C471.5,323.6 472.7,326.7 473.0,329.4 C473.3,332.1 473.0,335.3 472.1,337.4 C471.2,339.5 469.2,340.8 467.6,341.9 C466.0,342.9 464.0,343.7 462.2,343.7 C460.4,343.7 457.7,342.2 456.8,341.9"/>
<path d="M455.0,277.6 C453.5,278.1 448.2,279.1 446.0,280.8 C443.8,282.5 442.4,285.3 442.0,288.0 C441.6,290.7 442.5,294.3 443.3,297.0 C444.1,299.7 446.1,302.2 446.9,304.2 C447.6,306.1 448.2,307.3 447.8,308.7 C447.4,310.1 445.2,310.8 444.2,312.3 C443.1,313.8 441.9,316.8 441.5,317.7"/>
<path d="M464.0,283.5 C464.9,285.1 468.2,289.9 469.4,293.4 C470.6,296.8 471.3,301.2 471.2,304.2 C471.1,307.2 468.9,310.2 468.5,311.4"/>
<path d="M468.5,322.2 C468.8,323.4 470.2,327.0 470.3,329.4 C470.4,331.8 470.3,334.6 469.4,336.5 C468.5,338.4 465.6,340.2 464.9,341.0"/>
<path class="b" d="M447.8,288.5 C447.9,288.1 447.5,286.6 448.7,286.2 C449.9,285.8 452.9,285.1 455.0,285.8 C457.1,286.6 459.9,289.3 461.3,290.7 C462.7,292.1 462.8,293.7 463.1,294.3"/>
<circle class="k" cx="494.0" cy="248.0" r="1.3"/>
<circle class="k" cx="483.6" cy="254.4" r="1.0"/>
<ellipse cx="471.6" cy="260.6" rx="2.8" ry="1.9" transform="rotate(0.0 471.6 260.6)"/>
<path d="M480.5,401.0 L549.0,366.5 L521.6,430.5 L451.0,474.0Z"/>
<path d="M486.0,406.0 L543.5,374.0 L517.0,427.5 L457.0,464.5Z"/>
<path d="M434.0,356.0 L485.0,404.0"/>
<path d="M441.0,352.5 L490.0,398.5"/>
<path d="M549.0,366.5 L531.0,351.5"/>
<path d="M541.5,370.0 L526.0,356.0"/>
<path d="M424.5,447.3 L450.5,475.0"/>
<path d="M430.1,444.5 L453.2,469.0"/>
<ellipse cx="501.9" cy="418.0" rx="22.4" ry="10.8" transform="rotate(-43.0 501.9 418.0)"/>
<path class="b" d="M514.6,403.2 L515.7,403.5 L516.6,403.9 L517.4,404.5 L518.1,405.2 L518.5,406.1 L518.8,407.1 L519.0,408.3 L518.9,409.5 L518.7,410.9 L518.3,412.3 L517.7,413.8 L517.0,415.4 L516.1,417.0 L515.1,418.6 L513.9,420.2 L512.7,421.8 L511.3,423.4 L509.8,424.9 L508.2,426.4 L506.6,427.8 L504.9,429.0 L503.2,430.2 L501.5,431.3 L499.9,432.2 L498.2,432.9 L496.6,433.6 L495.0,434.0 L493.6,434.3 L492.2,434.4 L491.0,434.4 L489.8,434.2 L488.8,433.8 L488.0,433.3 L487.3,432.6 L486.8,431.7 L486.4,430.8 L486.3,429.7"/>
<path d="M507.0,404.5 L512.5,410.5"/>
<path d="M508.5,403.5 L514.0,409.5"/>
<ellipse class="k" cx="520.8" cy="391.6" rx="2.4" ry="1.4" transform="rotate(-43.0 520.8 391.6)"/>
<ellipse class="k" cx="529.6" cy="395.6" rx="2.4" ry="1.4" transform="rotate(-43.0 529.6 395.6)"/>
<ellipse class="k" cx="501.3" cy="403.6" rx="2.4" ry="1.4" transform="rotate(-43.0 501.3 403.6)"/>
<ellipse class="k" cx="521.9" cy="412.9" rx="2.4" ry="1.4" transform="rotate(-43.0 521.9 412.9)"/>
<ellipse class="k" cx="482.0" cy="423.6" rx="2.4" ry="1.4" transform="rotate(-43.0 482.0 423.6)"/>
<ellipse class="k" cx="502.9" cy="433.2" rx="2.4" ry="1.4" transform="rotate(-43.0 502.9 433.2)"/>
<ellipse class="k" cx="474.4" cy="440.4" rx="2.4" ry="1.4" transform="rotate(-43.0 474.4 440.4)"/>
<ellipse class="k" cx="483.2" cy="444.4" rx="2.4" ry="1.4" transform="rotate(-43.0 483.2 444.4)"/>
<path d="M440.0,384.4 C441.5,384.7 446.2,384.4 449.0,386.2 C451.8,388.0 455.1,391.9 457.0,395.2 C458.9,398.5 460.3,402.7 460.6,406.0 C460.9,409.3 460.1,412.4 458.8,415.0 C457.5,417.6 454.2,419.8 452.6,421.3 C451.0,422.8 449.0,422.6 449.0,424.0 C449.0,425.4 452.2,427.3 452.6,429.4 C453.1,431.5 452.6,434.6 451.7,436.5 C450.8,438.4 449.1,439.9 447.2,441.0 C445.2,442.1 442.1,442.8 440.0,442.8 C437.9,442.8 435.5,441.3 434.6,441.0"/>
<path d="M440.0,384.4 C438.9,384.8 435.3,385.6 433.7,387.1 C432.1,388.6 430.6,391.1 430.1,393.4 C429.7,395.6 430.4,398.7 431.0,400.6 C431.6,402.6 434.0,404.2 433.7,405.1 C433.4,406.0 430.8,405.4 429.2,406.0 C427.6,406.6 425.1,407.3 423.8,408.7 C422.5,410.1 421.4,412.5 421.1,414.1 C420.8,415.8 421.9,417.9 422.0,418.6"/>
<path d="M449.0,388.9 C450.1,390.2 453.8,394.1 455.3,397.0 C456.8,399.9 457.9,403.1 458.0,406.0 C458.1,408.9 456.5,412.8 456.2,414.1"/>
<path class="b" d="M438.2,391.8 C438.8,391.7 440.1,390.6 441.8,391.2 C443.5,391.8 446.3,393.2 448.1,395.2 C449.9,397.2 451.9,401.9 452.6,403.3"/>
<circle cx="469.0" cy="374.0" r="2.6"/>
<path class="b" d="M460.0,242.1 L472.1,248.2"/>
<path d="M461.3,245.4 L459.3,241.7 L463.4,241.2Z"/>
<path class="b" d="M472.1,236.8 L484.2,242.1"/>
<path d="M473.5,240.0 L471.4,236.5 L475.4,235.7Z"/>
<path class="b" d="M484.2,229.4 L495.6,234.7"/>
<path d="M485.6,232.6 L483.5,229.1 L487.5,228.4Z"/>
<path class="b" d="M490.9,260.2 L503.6,266.2"/>
<path d="M492.3,263.4 L490.2,259.9 L494.3,259.2Z"/>
<path class="b" d="M501.6,252.8 L514.3,259.5"/>
<path d="M502.8,256.1 L500.9,252.4 L505.0,251.9Z"/>
<path class="b" d="M513.7,246.1 L526.4,252.2"/>
<path d="M515.0,249.3 L513.0,245.8 L517.1,245.1Z"/>
<circle class="k" cx="468.8" cy="240.4" r="2.0"/>
<ellipse cx="482.2" cy="233.4" rx="2.6" ry="2.0" transform="rotate(0.0 482.2 233.4)"/>
<ellipse cx="506.3" cy="262.6" rx="2.9" ry="2.2" transform="rotate(0.0 506.3 262.6)"/>
<ellipse cx="519.7" cy="255.1" rx="3.0" ry="2.3" transform="rotate(0.0 519.7 255.1)"/>
<path class="b" d="M488.0,376.0 L496.0,385.0"/>
<path d="M488.0,379.0 L487.5,375.4 L490.9,376.3Z"/>
<path class="b" d="M499.0,369.0 L508.0,380.0"/>
<path d="M498.9,372.0 L498.5,368.4 L501.9,369.4Z"/>
<path class="b" d="M511.0,363.0 L520.0,374.0"/>
<path d="M510.9,366.0 L510.5,362.4 L513.9,363.4Z"/>
<ellipse cx="502.0" cy="382.4" rx="2.4" ry="2.0" transform="rotate(0.0 502.0 382.4)"/>
<circle class="k" cx="502.0" cy="382.4" r="1.0"/>
<ellipse cx="514.0" cy="375.0" rx="2.4" ry="2.0" transform="rotate(0.0 514.0 375.0)"/>
<circle class="k" cx="514.0" cy="375.5" r="1.0"/>
<path class="k" d="M420.8,334.9 L421.7,334.5 L422.7,334.4 L423.8,334.6 L425.0,335.1 L426.1,335.8 L427.3,336.7 L428.4,337.8 L429.5,339.0 L430.5,340.5 L431.3,342.0 L432.1,343.5 L432.6,345.1 L433.0,346.7 L433.1,348.1 L433.1,349.5 L432.9,350.7 L432.5,351.7 L431.9,352.6 L431.2,353.1 L456.9,337.5 L457.6,337.0 L458.2,336.1 L458.6,335.1 L458.8,333.9 L458.8,332.5 L458.7,331.1 L458.3,329.5 L457.8,327.9 L457.1,326.4 L456.2,324.9 L455.2,323.4 L454.2,322.2 L453.0,321.1 L451.8,320.2 L450.7,319.5 L449.5,319.0 L448.4,318.8 L447.4,318.9 L446.5,319.3Z"/>
<ellipse class="w" cx="426.0" cy="344.0" rx="10.5" ry="5.7" transform="rotate(60.5 426.0 344.0)"/>
<circle class="k" cx="426.5" cy="344.0" r="0.9"/>
<path class="w" d="M446.9,317.5 L447.4,317.0 L448.0,316.7 L448.6,316.4 L449.3,316.3 L450.0,316.3 L450.7,316.4 L451.5,316.6 L452.3,316.9 L453.2,317.3 L454.0,317.9 L454.8,318.5 L455.6,319.2 L456.4,320.0 L457.2,320.9 L457.9,321.8 L458.6,322.8 L459.3,323.9 L459.8,324.9 L460.4,326.0 L460.8,327.1 L461.2,328.2 L461.5,329.3 L461.7,330.4 L461.8,331.5 L461.9,332.5 L461.8,333.4 L461.7,334.3 L461.5,335.1 L461.2,335.8 L460.9,336.5 L460.4,337.0 L459.9,337.4 L459.4,337.8 L458.7,338.0 L458.1,338.1 L457.3,338.1"/>
<path d="M452.3,314.1 L453.0,313.9 L453.7,313.9 L454.5,313.9 L455.3,314.1 L456.1,314.4 L456.9,314.8 L457.8,315.3 L458.6,315.9 L459.5,316.6 L460.3,317.4 L461.1,318.3 L461.8,319.3 L462.5,320.3 L463.2,321.3 L463.8,322.4 L464.3,323.6 L464.8,324.7 L465.2,325.8 L465.5,327.0 L465.7,328.1 L465.8,329.1 L465.9,330.1 L465.8,331.1 L465.7,332.0 L465.5,332.8 L465.2,333.5 L464.8,334.2 L464.3,334.7 L463.8,335.1 L463.2,335.4 L462.5,335.6"/>
<path class="k" d="M399.1,433.7 L400.0,433.3 L401.0,433.2 L402.1,433.4 L403.3,433.9 L404.4,434.6 L405.6,435.5 L406.7,436.6 L407.8,437.8 L408.8,439.3 L409.6,440.8 L410.4,442.3 L410.9,443.9 L411.3,445.5 L411.4,446.9 L411.4,448.3 L411.2,449.5 L410.8,450.5 L410.2,451.4 L409.5,451.9 L436.0,435.8 L436.8,435.2 L437.4,434.4 L437.8,433.4 L438.0,432.2 L438.0,430.8 L437.8,429.3 L437.5,427.8 L436.9,426.2 L436.2,424.7 L435.4,423.1 L434.4,421.7 L433.3,420.5 L432.2,419.3 L431.0,418.4 L429.8,417.8 L428.7,417.3 L427.6,417.1 L426.6,417.2 L425.7,417.5Z"/>
<ellipse class="w" cx="404.3" cy="442.8" rx="10.5" ry="5.7" transform="rotate(60.5 404.3 442.8)"/>
<circle class="k" cx="404.8" cy="442.8" r="0.9"/>
<path class="w" d="M426.1,415.7 L426.6,415.3 L427.1,414.9 L427.7,414.7 L428.4,414.6 L429.1,414.6 L429.9,414.7 L430.7,414.9 L431.5,415.2 L432.3,415.6 L433.2,416.2 L434.0,416.8 L434.8,417.5 L435.6,418.3 L436.4,419.2 L437.1,420.1 L437.8,421.1 L438.4,422.1 L439.0,423.2 L439.5,424.3 L440.0,425.4 L440.3,426.5 L440.6,427.6 L440.9,428.7 L441.0,429.7 L441.0,430.7 L441.0,431.7 L440.9,432.6 L440.7,433.4 L440.4,434.1 L440.0,434.7 L439.6,435.3 L439.1,435.7 L438.5,436.1 L437.9,436.3 L437.2,436.4 L436.5,436.4"/>
<path d="M431.5,412.4 L432.1,412.2 L432.9,412.2 L433.6,412.2 L434.4,412.4 L435.2,412.7 L436.1,413.1 L436.9,413.6 L437.8,414.2 L438.6,414.9 L439.4,415.7 L440.2,416.6 L441.0,417.6 L441.7,418.6 L442.4,419.6 L443.0,420.7 L443.5,421.8 L443.9,423.0 L444.3,424.1 L444.6,425.2 L444.9,426.3 L445.0,427.4 L445.0,428.4 L445.0,429.4 L444.9,430.3 L444.6,431.1 L444.3,431.8 L444.0,432.5 L443.5,433.0 L443.0,433.4 L442.4,433.7 L441.7,433.9"/>

<text transform="translate(42.2,64) scale(0.64,1)" class="t">5</text>
<text transform="translate(42.6,250) scale(0.64,1)" class="t">7</text>
<text transform="translate(170.7,37.7) scale(0.64,1)" class="t">A</text>
<text transform="translate(-1.9,459.6) scale(0.64,1)" class="t">B</text>
<text transform="translate(726.4,12) scale(0.64,1)" class="t">4</text>
<text transform="translate(725,147.8) scale(0.64,1)" class="t">6</text>
<text transform="translate(731.5,346) scale(0.64,1)" class="t">9</text>

</svg>
</body></html>
